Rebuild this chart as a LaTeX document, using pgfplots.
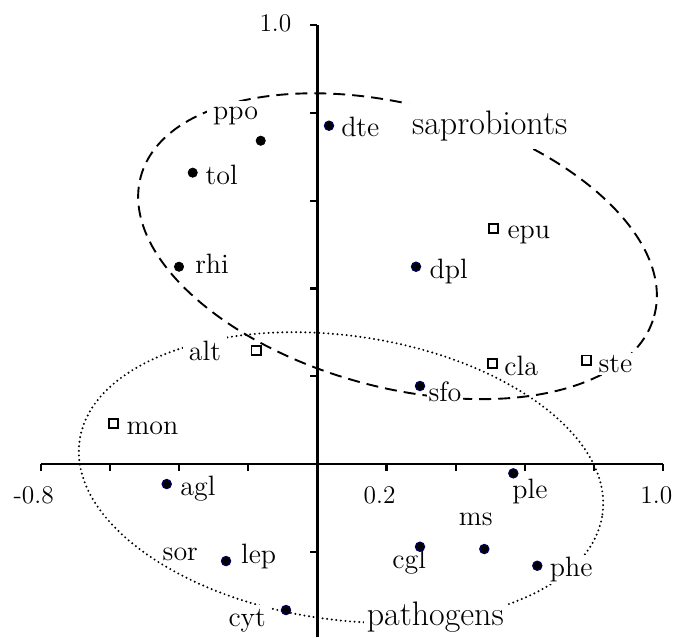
\documentclass[border=0pt]{standalone}
\usepackage{pgfplots}
\pgfplotsset{compat=1.18}
\definecolor{navy}{RGB}{0,0,90}
\begin{document}
\begin{tikzpicture}
\begin{axis}[
  scale only axis, width=311.3pt, height=306pt,
  xmin=-0.8, xmax=1.0, ymin=-0.394, ymax=1.0,
  axis lines=middle,
  axis line style={-, line width=1.2pt, black},
  xtick={-0.8,-0.6,-0.4,-0.2,0.2,0.4,0.6,0.8,1.0},
  xticklabels={-0.8,,,,0.2,,,,1.0},
  ytick={-0.2,0.2,0.4,0.6,0.8,1.0},
  yticklabels={,,,,,1.0},
  tick align=outside,
  major tick length=3.5pt,
  tick style={black, line width=1.1pt},
  xticklabel style={font=\fontsize{12.7}{14}\selectfont, anchor=north, xshift=-3.5pt, yshift=-4.5pt},
  yticklabel style={font=\fontsize{12.7}{14}\selectfont, anchor=east, xshift=-6pt, yshift=1pt},
  clip=false,
]
% group ellipses
\draw[black, line width=0.95pt, dash pattern=on 6pt off 3.5pt]
  (axis cs:0.2316,0.4961) ellipse [x radius=133pt, y radius=70.5pt, rotate=-15.2];
\draw[black, line width=1.1pt, line cap=round, dash pattern=on 0pt off 2.3pt]
  (axis cs:0.0682,-0.0308) ellipse [x radius=132pt, y radius=71pt, rotate=-8];
% labels
\begin{scope}[every node/.style={anchor=base, fill=white, inner sep=1pt, font=\fontsize{14}{16}\selectfont}]
\node[inner sep=3pt] at (axis cs:-0.2368,0.7852) {ppo};
\node at (axis cs:-0.2767,0.6371) {tol};
\node at (axis cs:-0.3047,0.4344) {rhi};
\node at (axis cs:0.1240,0.7456) {dte};
\node at (axis cs:0.6112,0.5141) {epu};
\node at (axis cs:0.3796,0.4230) {dpl};
\node[inner sep=3pt] at (axis cs:-0.3250,0.2369) {alt};
\node at (axis cs:-0.4767,0.0683) {mon};
\node at (axis cs:-0.3452,-0.0706) {agl};
\node at (axis cs:-0.3964,-0.2203) {sor};
\node at (axis cs:-0.1697,-0.2262) {lep};
\node[inner sep=2.5pt] at (axis cs:-0.2030,-0.3706) {cyt};
\node at (axis cs:0.5892,0.2011) {cla};
\node at (axis cs:0.8618,0.2080) {ste};
\node at (axis cs:0.3689,0.1419) {sfo};
\node at (axis cs:0.6146,-0.0781) {ple};
\node at (axis cs:0.4579,-0.1390) {ms};
\node at (axis cs:0.2654,-0.2376) {cgl};
\node at (axis cs:0.7340,-0.2567) {phe};
\node[font=\fontsize{17}{20}\selectfont, inner sep=4pt] at (axis cs:0.4981,0.7510) {saprobionts};
\node[font=\fontsize{17}{20}\selectfont, inner sep=1.5pt] at (axis cs:0.3409,-0.3667) {pathogens};
\end{scope}
% black filled points
\addplot[only marks, mark=*, mark size=2.3pt, mark options={fill=black, draw=black}]
  coordinates {(-0.1639,0.7364) (-0.3605,0.6636) (-0.4001,0.4494)};
% navy-edged filled points
\addplot[only marks, mark=*, mark size=2.3pt, mark options={fill=black, draw=navy, line width=0.6pt}]
  coordinates {(0.0335,0.7706) (0.2851,0.4494) (0.2966,0.1777) (-0.4357,-0.0456)
               (-0.2642,-0.2210) (-0.0908,-0.3326) (0.5664,-0.0212) (0.2966,-0.1884)
               (0.4825,-0.1936) (0.6357,-0.2317)};
% open squares
\addplot[only marks, mark=square*, mark size=2.3pt, mark options={fill=white, draw=black, line width=0.9pt}]
  coordinates {(0.5085,0.5369) (-0.1775,0.2581) (-0.5901,0.0927) (0.5068,0.2294) (0.7786,0.2369)};
\end{axis}
\pgfresetboundingbox
\path ([xshift=-20.35pt]current axis.south west) rectangle ([xshift=4.85pt,yshift=12.5pt]current axis.north east);
\end{tikzpicture}
\end{document}
